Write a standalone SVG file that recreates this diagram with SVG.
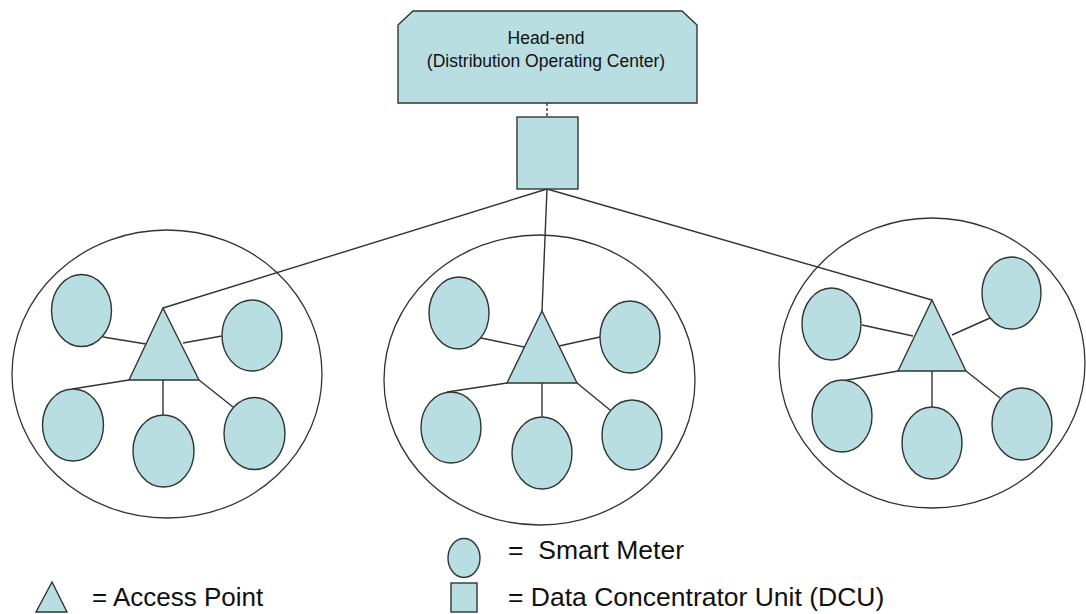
<svg xmlns="http://www.w3.org/2000/svg" width="1086" height="614" viewBox="0 0 1086 614">
<style>
.fill{fill:#b9dee2;stroke:#2f3535;stroke-width:1.4}
.zone{fill:none;stroke:#333;stroke-width:1.3}
.ln{stroke:#333;stroke-width:1.4;fill:none}
.t{font-family:"Liberation Sans",Arial,sans-serif;fill:#111}
</style>
<rect width="1086" height="614" fill="#fff"/>
<g id="zones">
<ellipse class="zone" cx="167" cy="374" rx="155" ry="144"/>
<ellipse class="zone" cx="539.5" cy="380" rx="155.5" ry="145"/>
<ellipse class="zone" cx="932" cy="363" rx="153" ry="145"/>
</g>
<g id="connectors">
<line class="ln" x1="547" y1="103" x2="547" y2="117" stroke-dasharray="3 2"/>
<line class="ln" x1="547" y1="189" x2="163" y2="308"/>
<line class="ln" x1="547" y1="189" x2="542" y2="311"/>
<line class="ln" x1="547" y1="189" x2="932" y2="300"/>
<line class="ln" x1="103" y1="337" x2="146" y2="344"/>
<line class="ln" x1="183" y1="343" x2="222" y2="336"/>
<line class="ln" x1="72" y1="389" x2="129" y2="380"/>
<line class="ln" x1="163" y1="380" x2="163" y2="415"/>
<line class="ln" x1="199" y1="380" x2="233" y2="407"/>
<line class="ln" x1="481" y1="338" x2="524" y2="347"/>
<line class="ln" x1="559" y1="346" x2="600" y2="337"/>
<line class="ln" x1="447" y1="392" x2="507" y2="383"/>
<line class="ln" x1="542" y1="383" x2="542" y2="417"/>
<line class="ln" x1="577" y1="383" x2="610" y2="410"/>
<line class="ln" x1="862" y1="325" x2="913" y2="336"/>
<line class="ln" x1="952" y1="335" x2="990" y2="318"/>
<line class="ln" x1="842" y1="381" x2="898" y2="371"/>
<line class="ln" x1="932" y1="371" x2="932" y2="407"/>
<line class="ln" x1="966" y1="371" x2="1000" y2="398"/>
</g>
<g id="head-end">
<polygon class="fill" points="398,25 413,11 682,11 697,25 697,103 398,103"/>
<text class="t" x="546" y="43.5" font-size="17.5" text-anchor="middle">Head-end</text>
<text class="t" x="546" y="67" font-size="17.5" text-anchor="middle">(Distribution Operating Center)</text>
</g>
<g id="dcu"><rect class="fill" x="517" y="117" width="61" height="72"/></g>
<g id="ap-left"><polygon class="fill" points="163,308 129,380 199,380"/></g>
<g id="ap-middle"><polygon class="fill" points="542,311 507,383 577,383"/></g>
<g id="ap-right"><polygon class="fill" points="932,300 898,371 966,371"/></g>
<g id="meters-left">
<ellipse class="fill" cx="81.5" cy="310.5" rx="30" ry="36"/>
<ellipse class="fill" cx="252" cy="335.5" rx="30" ry="35.5"/>
<ellipse class="fill" cx="73" cy="425" rx="30.5" ry="36"/>
<ellipse class="fill" cx="163.5" cy="451" rx="30.5" ry="36"/>
<ellipse class="fill" cx="254.5" cy="433.5" rx="30.5" ry="36"/>
</g>
<g id="meters-middle">
<ellipse class="fill" cx="459" cy="313" rx="30" ry="36"/>
<ellipse class="fill" cx="630" cy="337" rx="30" ry="36"/>
<ellipse class="fill" cx="451" cy="427.5" rx="30" ry="35.5"/>
<ellipse class="fill" cx="542" cy="453" rx="30" ry="36"/>
<ellipse class="fill" cx="632" cy="435" rx="30" ry="35"/>
</g>
<g id="meters-right">
<ellipse class="fill" cx="831.5" cy="324" rx="29.5" ry="36"/>
<ellipse class="fill" cx="1011.5" cy="293" rx="29.5" ry="36"/>
<ellipse class="fill" cx="842" cy="416" rx="30" ry="36"/>
<ellipse class="fill" cx="932" cy="443" rx="30" ry="36"/>
<ellipse class="fill" cx="1022" cy="424" rx="30" ry="36"/>
</g>
<g id="legend">
<polygon class="fill" points="52,582 36,612 67,612"/>
<text class="t" x="92" y="606" font-size="26">= Access Point</text>
<ellipse class="fill" cx="464" cy="558" rx="16" ry="19.5"/>
<text class="t" x="508" y="559" font-size="26.5" xml:space="preserve">=  Smart Meter</text>
<rect class="fill" x="451" y="583" width="26" height="29"/>
<text class="t" x="508" y="606" font-size="26.5">= Data Concentrator Unit (DCU)</text>
</g>
</svg>
